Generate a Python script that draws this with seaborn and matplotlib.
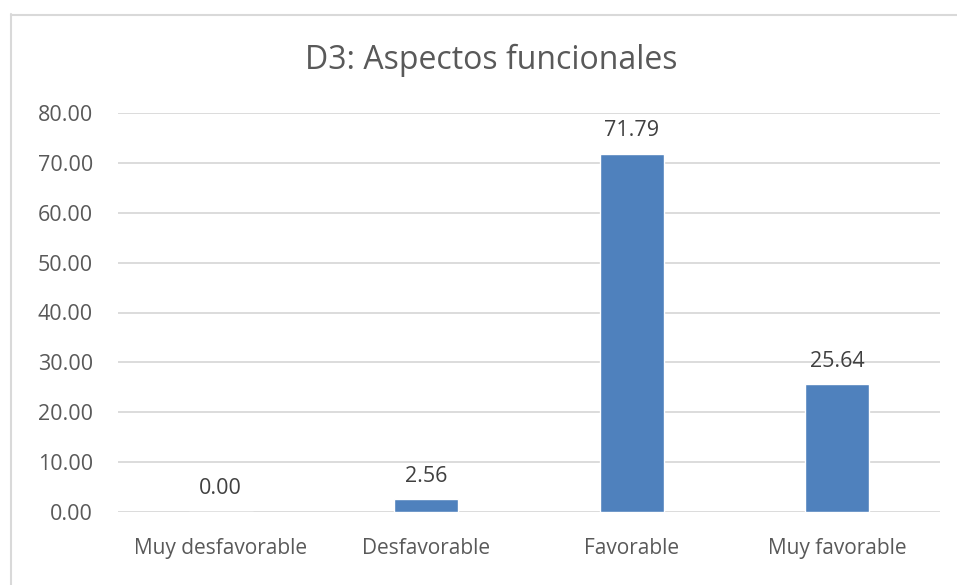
import matplotlib
matplotlib.use("Agg")
import matplotlib.pyplot as plt
from matplotlib.lines import Line2D
import seaborn as sns
import pandas as pd

categories = ["Muy desfavorable", "Desfavorable", "Favorable", "Muy favorable"]
values = [0.00, 2.56, 71.79, 25.64]
yticks = [0, 10, 20, 30, 40, 50, 60, 70, 80]
title = "D3: Aspectos funcionales"

sns.set_theme(style="white")
plt.rcParams["font.family"] = ["Open Sans", "DejaVu Sans"]

df = pd.DataFrame({"categoria": categories, "valor": values})

fig = plt.figure(figsize=(9.57, 5.85), dpi=100)
ax = fig.add_axes([118 / 957, 1 - 512 / 585, (940 - 118) / 957, (512 - 113) / 585])

sns.barplot(data=df, x="categoria", y="valor", order=categories, color="#4F81BD",
            saturation=1, width=0.31, ax=ax, zorder=3)

ax.set_ylim(0, 80)
ax.set_xlim(-0.5, len(categories) - 0.5)
ax.set_yticks(yticks)
ax.set_yticklabels([f"{t:.2f}" for t in yticks])
ax.yaxis.grid(True, color="#D9D9D9", linewidth=1.3, zorder=0)
ax.set_axisbelow(True)
for s in ax.spines.values():
    s.set_visible(False)
ax.tick_params(axis="y", length=0, labelsize=15.5, colors="#595959", pad=18)
ax.tick_params(axis="x", length=0, labelsize=15, colors="#595959", pad=19)
ax.set_xlabel("")
ax.set_ylabel("")

for i, v in enumerate(values):
    ax.annotate(f"{v:.2f}", (i, v), xytext=(0, 9), textcoords="offset points",
                ha="center", va="bottom", fontsize=15.5, color="#404040")

fig.text(491 / 957, 1 - 60 / 585, title, ha="center", va="center", fontsize=23, color="#595959")

# chart frame
fig.add_artist(Line2D([10.5 / 957, 10.5 / 957], [0, 1 - 14 / 585], transform=fig.transFigure,
                      color="#D9D9D9", linewidth=1.5))
fig.add_artist(Line2D([10.5 / 957, 1], [1 - 14.5 / 585, 1 - 14.5 / 585], transform=fig.transFigure,
                      color="#D9D9D9", linewidth=1.5))

fig.savefig("out.png", dpi=100, facecolor="white")
